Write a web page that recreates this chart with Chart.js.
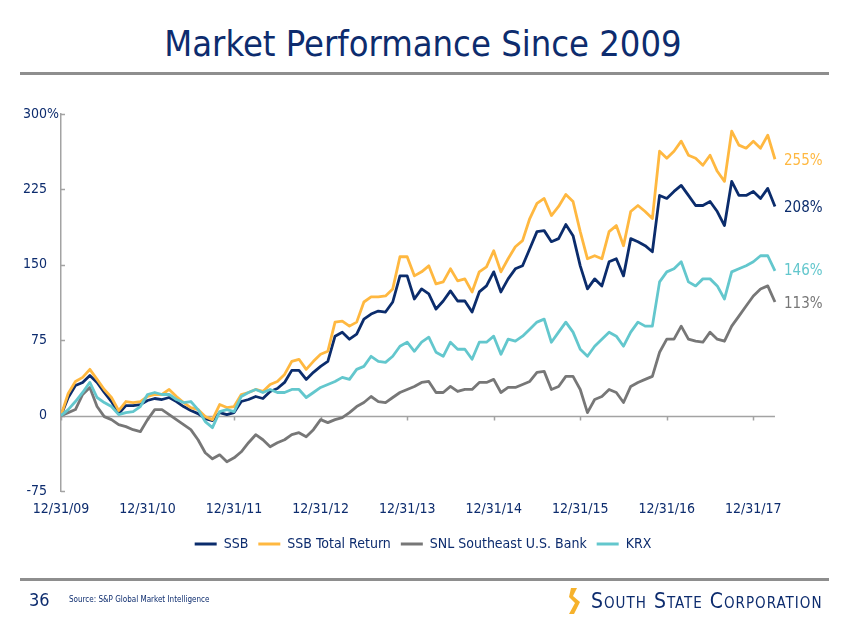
<!DOCTYPE html>
<html>
<head>
<meta charset="utf-8">
<script src="https://cdn.jsdelivr.net/npm/chart.js@4.4.1/dist/chart.umd.min.js"></script>
<style>
  html, body { margin:0; padding:0; background:#fff; }
  body { width:846px; height:635px; position:relative; overflow:hidden; font-family:'DejaVu Sans Condensed','DejaVu Sans',sans-serif; }
  #title { position:absolute; left:0; top:23px; width:846px; text-align:center; font-size:36px; color:#0d2c6e; }
  .rule { position:absolute; left:20px; width:809px; height:3px; background:#8e8e8e; }
  #chartWrap { position:absolute; left:0; top:0; width:846px; height:635px; }
  #page { position:absolute; left:29px; top:589px; font-size:18px; color:#0d2c6e; }
  #source { position:absolute; left:69px; top:595px; font-size:8px; color:#0d2c6e; }
  #logo { position:absolute; left:568px; top:586px; height:30px; display:flex; align-items:center; }
  #logo span { font-size:21px; font-variant:small-caps; color:#0d2c6e; margin-left:7px; letter-spacing:1px; }
</style>
</head>
<body>
<div id="title">Market Performance Since 2009</div>
<div class="rule" style="top:72px"></div>
<div id="chartWrap"><canvas id="c" width="846" height="635"></canvas></div>
<div class="rule" style="top:578px"></div>
<div id="page">36</div>
<div id="source">Source: S&amp;P Global Market Intelligence</div>
<div id="logo">
  <svg width="16" height="28" viewBox="0 0 16 28"><path d="M3 1 L9 1 L5 9 L12 15 L6 27 L1 27 L7 16 L1 10 Z" fill="#f6b22c"/></svg>
  <span>South State Corporation</span>
</div>
<script>
// Monthly samples from 12/31/09 (index 0) to late March 2018 (index 99)
const xTickMonths = [0, 12, 24, 36, 48, 60, 72, 84, 96];
const xTickLabels = ['12/31/09','12/31/10','12/31/11','12/31/12','12/31/13','12/31/14','12/31/15','12/31/16','12/31/17'];
const yTicks = [-75, 0, 75, 150, 225, 300];

const seriesNames = ['SSB', 'SSB Total Return', 'SNL Southeast U.S. Bank', 'KRX'];

const ssb = [0,18,30,33,40,33,23,14,2,10, 10,11,15,17,16,18,14,9,5,2, -3,-5,3,1,3,14,16,19,17,24,
  27,33,45,45,36,43,49,54,79,83, 76,81,96,101,104,103,113,139,139,116, 126,121,106,114,124,114,114,103,123,129,
  143,123,136,146,149,166,183,184,173,176, 190,179,149,126,136,129,153,156,139,176, 173,169,163,219,216,223,229,219,209,209,
  213,203,189,233,219,219,223,216,226,208];

const ssbTR = [0,22,34,38,46,36,26,18,5,14, 13,14,19,21,21,26,19,13,8,6, -1,-4,11,8,9,21,23,26,24,31,
  34,41,54,56,46,54,61,64,93,94, 89,93,113,118,118,119,126,158,158,139, 143,149,131,133,146,134,136,123,143,148,
  164,143,156,168,174,196,211,216,199,208, 220,213,183,156,159,156,183,189,169,203, 209,203,196,263,256,263,273,259,256,249,
  259,243,233,283,269,266,273,266,279,255];

const snl = [0,3,6,21,28,9,-1,-4,-9,-11, -14,-16,-4,6,6,1,-4,-9,-14,-24, -37,-43,-39,-46,-42,-36,-27,-19,-24,-31,
  -27,-24,-19,-17,-21,-14,-4,-7,-4,-2, 3,9,13,19,14,13,18,23,26,29, 33,34,23,23,29,24,26,26,33,33,
  36,23,28,28,31,34,43,44,26,29, 39,39,26,3,16,19,26,23,13,29, 33,36,39,63,76,76,89,76,74,73,
  83,76,74,89,99,109,119,126,129,113];

const krx = [0,6,14,23,33,18,13,9,1,3, 4,9,21,23,21,21,16,13,14,6, -6,-12,4,6,4,19,23,26,23,26,
  23,23,26,26,18,23,28,31,34,38, 36,46,49,59,54,53,59,69,73,64, 73,78,63,59,73,66,66,56,73,73,
  79,61,76,74,79,86,93,96,73,83, 93,83,66,59,69,76,83,79,69,83, 93,89,89,133,143,146,153,133,129,136,
  136,129,116,143,146,149,153,159,159,144];

const endLabels = ['255%', '208%', '146%', '113%'];
const endLabelValues = [255, 208, 146, 113];

const lastMonth = 99;          // last sample
const axisMaxMonth = 108.85;   // scale extends under the end labels so the legend centres on the page

const colors = { ssb:'#0b2c6c', ssbTR:'#ffb840', snl:'#777777', krx:'#63c7cd' };
const endLabelColors = [colors.ssbTR, colors.ssb, colors.krx, colors.snl];
const TEXT = '#0d2c6e';
const AXIS = '#a3a3a3';
const FONT = "'DejaVu Sans Condensed','DejaVu Sans',sans-serif";

const toXY = arr => arr.map((v, i) => ({ x: i, y: v }));

const overlay = {
  id: 'overlay',
  beforeDatasetsDraw(chart) {
    const ctx = chart.ctx, xs = chart.scales.x, ys = chart.scales.y;
    const ca = chart.chartArea;
    ctx.save();
    ctx.strokeStyle = AXIS;
    ctx.lineWidth = 1.5;
    const y0 = Math.round(ys.getPixelForValue(0)) + 0.5;
    const xEnd = xs.getPixelForValue(lastMonth);
    // zero line
    ctx.beginPath(); ctx.moveTo(ca.left, y0); ctx.lineTo(xEnd, y0); ctx.stroke();
    // y tick marks pointing into the plot
    yTicks.forEach(v => {
      const y = Math.round(ys.getPixelForValue(v)) + 0.5;
      ctx.beginPath(); ctx.moveTo(ca.left, y); ctx.lineTo(ca.left + 4, y); ctx.stroke();
    });
    // year tick marks below the zero line
    xTickMonths.forEach(m => {
      const x = Math.round(xs.getPixelForValue(m)) + 0.5;
      ctx.beginPath(); ctx.moveTo(x, y0); ctx.lineTo(x, y0 + 4); ctx.stroke();
    });
    ctx.restore();
  },
  afterDraw(chart) {
    const ctx = chart.ctx, ys = chart.scales.y;
    ctx.save();
    ctx.font = '14px ' + FONT;
    ctx.fillStyle = TEXT;
    ctx.textAlign = 'left';
    ctx.textBaseline = 'middle';
    ctx.fillText('%', 47, ys.getPixelForValue(300));
    ctx.font = '15px ' + FONT;
    endLabels.forEach((t, i) => {
      ctx.fillStyle = endLabelColors[i];
      ctx.fillText(t, 784, ys.getPixelForValue(endLabelValues[i]) + 2);
    });
    ctx.restore();
  }
};

new Chart(document.getElementById('c'), {
  type: 'line',
  data: {
    datasets: [
      { label: seriesNames[0], data: toXY(ssb), borderColor: colors.ssb, backgroundColor: colors.ssb, order: 4 },
      { label: seriesNames[1], data: toXY(ssbTR), borderColor: colors.ssbTR, backgroundColor: colors.ssbTR, order: 3 },
      { label: seriesNames[2], data: toXY(snl), borderColor: colors.snl, backgroundColor: colors.snl, order: 2 },
      { label: seriesNames[3], data: toXY(krx), borderColor: colors.krx, backgroundColor: colors.krx, order: 1 }
    ]
  },
  options: {
    responsive: false,
    animation: false,
    elements: { point: { radius: 0, hoverRadius: 0 }, line: { borderWidth: 2.8, tension: 0, borderJoinStyle: 'round' } },
    layout: { padding: { left: 0, right: 0, top: 114, bottom: 74 } },
    plugins: {
      tooltip: { enabled: false },
      legend: {
        position: 'bottom',
        reverse: true,
        labels: {
          boxWidth: 22, boxHeight: 3, padding: 10, color: TEXT,
          font: { family: FONT, size: 14 },
          generateLabels(chart) {
            const items = Chart.defaults.plugins.legend.labels.generateLabels(chart);
            items.forEach(it => { it.lineWidth = 0; it.fillStyle = it.strokeStyle; });
            return items;
          }
        }
      }
    },
    scales: {
      x: {
        type: 'linear', min: 0, max: axisMaxMonth,
        border: { display: false },
        grid: { display: false, drawTicks: false },
        afterBuildTicks(s) { s.ticks = xTickMonths.map(v => ({ value: v })); },
        afterFit(s) { s.height = 36; },
        ticks: {
          padding: 10, color: TEXT, maxRotation: 0, autoSkip: false,
          font: { family: FONT, size: 14 },
          callback(v) { const i = xTickMonths.indexOf(v); return i >= 0 ? xTickLabels[i] : ''; }
        }
      },
      y: {
        min: -75, max: 300,
        border: { display: true, color: AXIS, width: 1.5 },
        grid: { display: false, drawTicks: false },
        afterBuildTicks(s) { s.ticks = yTicks.map(v => ({ value: v })); },
        afterFit(s) { s.width = 61; },
        ticks: {
          padding: 14, color: TEXT,
          font: { family: FONT, size: 14 },
          callback(v) { return String(v); }
        }
      }
    }
  },
  plugins: [overlay]
});
</script>
</body>
</html>
